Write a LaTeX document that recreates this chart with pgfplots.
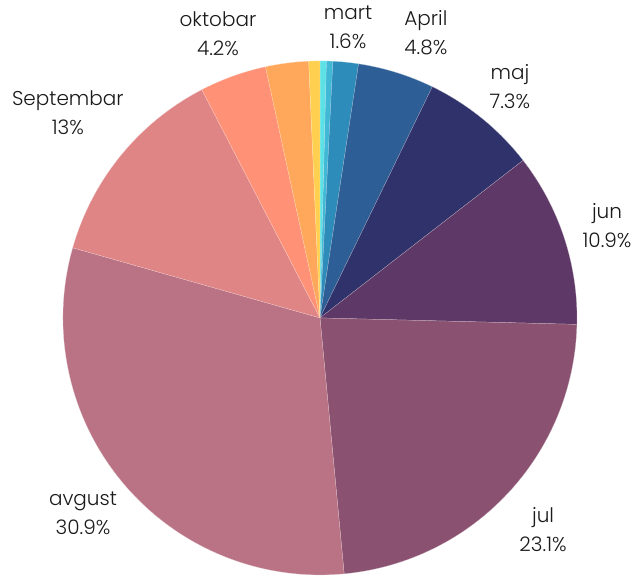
\documentclass[border=0pt]{standalone}
\usepackage{pgfplots}
\usepackage{pgfplotstable}
\pgfplotsset{compat=1.18}
\usepackage{fontspec}
\IfFontExistsTF{Poppins Light}{\setmainfont{Poppins Light}}{\setmainfont{Poppins}}
\definecolor{s1}{HTML}{5CE1E6}
\definecolor{s2}{HTML}{41B8D5}
\definecolor{s3}{HTML}{2D8CBA}
\definecolor{s4}{HTML}{2D5F96}
\definecolor{s5}{HTML}{30336B}
\definecolor{s6}{HTML}{5E3866}
\definecolor{s7}{HTML}{8A5270}
\definecolor{s8}{HTML}{B97385}
\definecolor{s9}{HTML}{E08586}
\definecolor{s10}{HTML}{FF9176}
\definecolor{s11}{HTML}{FFA85C}
\definecolor{s12}{HTML}{FFD04F}
\definecolor{txt}{HTML}{1A1A1A}
\pgfplotstableread{
name pct col
c1 0.4 s1
c2 0.4 s2
mart 1.6 s3
April 4.8 s4
maj 7.3 s5
jun 10.9 s6
jul 23.1 s7
avgust 30.9 s8
Septembar 13 s9
oktobar 4.2 s10
o2 2.7 s11
y1 0.7 s12
}\piedata
\begin{document}
\begin{tikzpicture}
\begin{axis}[
  x=192.75pt, y=192.75pt,
  xmin=-1.245, xmax=1.2296,
  ymin=-1.0, ymax=1.237,
  hide axis, clip=false,
]
\path (rel axis cs:0,0) rectangle (rel axis cs:1,1);
\pgfplotstablegetrowsof{\piedata}
\pgfmathtruncatemacro\N{\pgfplotsretval-1}
\def\cum{0}
\pgfplotsforeachungrouped \i in {0,...,\N}{%
  \pgfplotstablegetelem{\i}{pct}\of\piedata \let\p\pgfplotsretval
  \pgfplotstablegetelem{\i}{col}\of\piedata \let\c\pgfplotsretval
  \pgfmathsetmacro\a{90-3.6*\cum}%
  \pgfmathsetmacro\b{90-3.6*(\cum+\p)}%
  \edef\temp{\noexpand\fill[\c, draw=white!60!\c, line width=0.15pt] (axis cs:0,0) -- (axis cs:{cos(\a)},{sin(\a)}) arc[start angle=\a, end angle=\b, radius=192.75pt] -- cycle;}%
  \temp
  \pgfmathsetmacro\cum{\cum+\p}%
}
\tikzset{lab/.style={align=center, text=txt, font=\fontsize{15}{21.75}\selectfont, inner sep=0pt}}
\node[lab] at (axis cs:0.109,1.132) {mart\\1.6\%};
\node[lab] at (axis cs:0.412,1.109) {April\\4.8\%};
\node[lab] at (axis cs:0.739,0.899) {maj\\7.3\%};
\node[lab] at (axis cs:1.117,0.358) {jun\\10.9\%};
\node[lab] at (axis cs:0.868,-0.825) {jul\\23.1\%};
\node[lab] at (axis cs:-0.922,-0.759) {avgust\\30.9\%};
\node[lab] at (axis cs:-0.981,0.798) {Septembar\\13\%};
\node[lab] at (axis cs:-0.397,1.105) {oktobar\\4.2\%};
\end{axis}
\end{tikzpicture}
\end{document}
